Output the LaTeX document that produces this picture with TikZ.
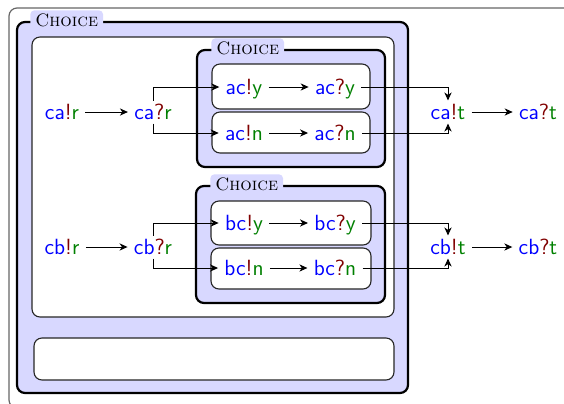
\documentclass[tikz,border=0pt]{standalone}
\usetikzlibrary{arrows.meta}
\definecolor{boxblue}{RGB}{216,216,255}
\newcommand\chn[3]{\textcolor{blue}{#1}\textcolor{red!50!black}{#2}\textcolor{green!50!black}{#3}}
\begin{document}
\begin{tikzpicture}[x=0.5pt,y=-0.5pt,
  frame/.style={draw=black!60, line width=0.6pt, rounded corners=4pt},
  choicebox/.style={draw=black, line width=1.1pt, fill=boxblue, rounded corners=4pt, inner sep=0pt},
  whitebox/.style={draw=black!85, line width=0.55pt, fill=white, rounded corners=4pt, inner sep=0pt},
  choicelabel/.style={fill=boxblue, rounded corners=2pt, font=\fontsize{9}{11}\selectfont\scshape, inner xsep=2.5pt, inner ysep=1.5pt, anchor=west},
  lbl/.style={font=\sffamily\fontsize{11}{13}\selectfont, inner xsep=3pt, inner ysep=1.5pt, text height=7.6pt, text depth=0.5pt},
  arr/.style={-{Stealth[length=4pt,width=3.6pt,inset=1.2pt]}, line width=0.5pt}]
\useasboundingbox (0,0) rectangle (564,403);
\clip (0,0) rectangle (564,403);
\draw[frame] (9,8) rectangle (600,408);
% big choice
\node[choicebox, minimum width=195.5pt, minimum height=185.5pt] (bigc) at (212.5,207.5) {};
\node[choicelabel] (bigl) at ([xshift=7pt,yshift=0.5pt]bigc.north west) {Choice};
\node[whitebox, minimum width=181pt, minimum height=140pt] (topw) at (213,177) {};
\node[whitebox, minimum width=180pt, minimum height=21pt] (botw) at (214,359) {};
% nested top
\node[choicebox, minimum width=94pt, minimum height=58.5pt] (nesta) at (291,108.5) {};
\node[choicelabel] (nestal) at ([xshift=7.5pt,yshift=0.5pt]nesta.north west) {Choice};
\node[whitebox, minimum width=79pt, minimum height=22.5pt] (boxay) at (291,86.5) {};
\node[whitebox, minimum width=79pt, minimum height=20.5pt] (boxan) at (291,132.5) {};
% nested bottom
\node[choicebox, minimum width=94.5pt, minimum height=58.5pt] (nestb) at (290.5,244.5) {};
\node[choicelabel] (nestbl) at ([xshift=7.5pt,yshift=0.5pt]nestb.north west) {Choice};
\node[whitebox, minimum width=80pt, minimum height=22pt] (boxby) at (291,223) {};
\node[whitebox, minimum width=80pt, minimum height=20.5pt] (boxbn) at (291,268.5) {};
% text nodes top
\node[lbl] (car) at (62,112) {\chn{ca}{!}{r}};
\node[lbl] (caq) at (153,112) {\chn{ca}{?}{r}};
\node[lbl] (acy) at (244,87) {\chn{ac}{!}{y}};
\node[lbl] (acyq) at (335,87) {\chn{ac}{?}{y}};
\node[lbl] (acn) at (244,133) {\chn{ac}{!}{n}};
\node[lbl] (acnq) at (335,133) {\chn{ac}{?}{n}};
\node[lbl] (cat) at (448,112) {\chn{ca}{!}{t}};
\node[lbl] (catq) at (538,112) {\chn{ca}{?}{t}};
% text nodes bottom
\node[lbl] (cbr) at (62,247) {\chn{cb}{!}{r}};
\node[lbl] (cbq) at (153,247) {\chn{cb}{?}{r}};
\node[lbl] (bcy) at (244,223) {\chn{bc}{!}{y}};
\node[lbl] (bcyq) at (335,223) {\chn{bc}{?}{y}};
\node[lbl] (bcn) at (244,268) {\chn{bc}{!}{n}};
\node[lbl] (bcnq) at (335,268) {\chn{bc}{?}{n}};
\node[lbl] (cbt) at (448,247) {\chn{cb}{!}{t}};
\node[lbl] (cbtq) at (538,247) {\chn{cb}{?}{t}};
% connectors top
\draw[arr] (car) -- (caq);
\draw[arr] (caq.north) |- (acy);
\draw[arr] (caq.south) |- (acn);
\draw[arr] (acy) -- (acyq);
\draw[arr] (acn) -- (acnq);
\draw[arr] (acyq) -| (cat);
\draw[arr] (acnq) -| (cat);
\draw[arr] (cat) -- (catq);
% connectors bottom
\draw[arr] (cbr) -- (cbq);
\draw[arr] (cbq.north) |- (bcy);
\draw[arr] (cbq.south) |- (bcn);
\draw[arr] (bcy) -- (bcyq);
\draw[arr] (bcn) -- (bcnq);
\draw[arr] (bcyq) -| (cbt);
\draw[arr] (bcnq) -| (cbt);
\draw[arr] (cbt) -- (cbtq);
\end{tikzpicture}
\end{document}
